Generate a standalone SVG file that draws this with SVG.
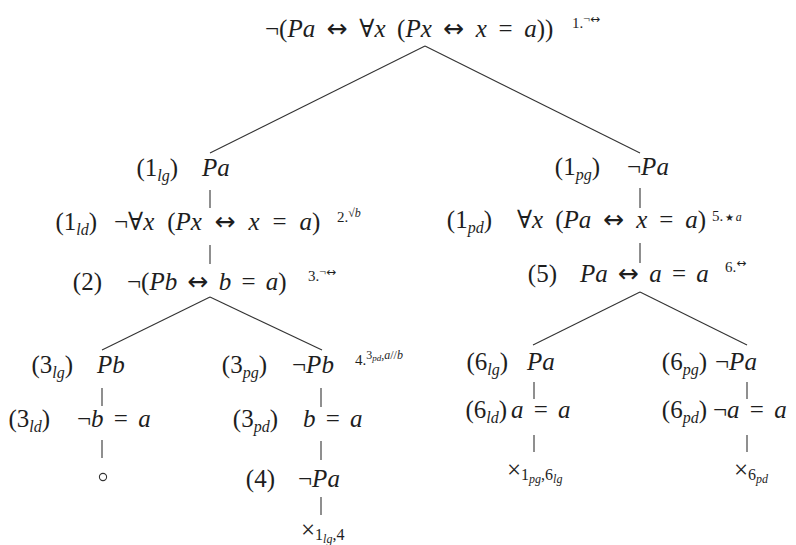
<svg xmlns="http://www.w3.org/2000/svg" width="796" height="545" viewBox="0 0 796 545">
<style>
text { font-family: "Liberation Serif", "DejaVu Serif", serif; fill: #1e1e1e; }
.f { font-size: 25px; word-spacing: 4px; }
.i { font-style: italic; }
.ar { font-family: "DejaVu Sans", sans-serif; font-style: normal; }
.sub { font-size: 16px; }
.ann { font-size: 15px; }
.sup { font-size: 12px; }
.tiny { font-size: 9px; }
.star { font-size: 20px; }
.edge { stroke: #333; stroke-width: 1.1; fill: none; }
</style>
<rect width="796" height="545" fill="#ffffff"/>
<g id="connectors">
  <line class="edge" x1="425" y1="46" x2="210" y2="153"/>
  <line class="edge" x1="425" y1="46" x2="640" y2="153"/>
  <line class="edge" x1="210" y1="190" x2="210" y2="208"/>
  <line class="edge" x1="210" y1="245" x2="210" y2="264"/>
  <line class="edge" x1="210" y1="297" x2="102" y2="350"/>
  <line class="edge" x1="210" y1="297" x2="322" y2="350"/>
  <line class="edge" x1="102" y1="388" x2="102" y2="406"/>
  <line class="edge" x1="102" y1="440" x2="102" y2="458"/>
  <line class="edge" x1="321" y1="388" x2="321" y2="407"/>
  <line class="edge" x1="321" y1="441" x2="321" y2="460"/>
  <line class="edge" x1="321" y1="497" x2="321" y2="515"/>
  <line class="edge" x1="640" y1="188" x2="640" y2="208"/>
  <line class="edge" x1="640" y1="243" x2="640" y2="263"/>
  <line class="edge" x1="640" y1="292" x2="533" y2="345"/>
  <line class="edge" x1="640" y1="292" x2="747" y2="345"/>
  <line class="edge" x1="534" y1="382" x2="534" y2="399"/>
  <line class="edge" x1="534" y1="435" x2="534" y2="452"/>
  <line class="edge" x1="747" y1="382" x2="747" y2="399"/>
  <line class="edge" x1="747" y1="435" x2="747" y2="452"/>
</g>
<g id="n1">
  <text class="f" x="265" y="37" style="word-spacing:5.3px">¬(<tspan class="i">Pa</tspan> <tspan class="ar">↔</tspan> ∀<tspan class="i">x</tspan> (<tspan class="i">Px</tspan> <tspan class="ar">↔</tspan> <tspan class="i">x</tspan> = <tspan class="i">a</tspan>))</text>
  <text class="ann" x="572" y="28">1.<tspan class="sup" dy="-5">¬<tspan class="ar">↔</tspan></tspan></text>
</g>
<g id="n1lg">
  <text class="f" x="178" y="176" text-anchor="end">(1<tspan class="sub i" dy="5">lg</tspan><tspan dy="-5">)</tspan></text>
  <text class="f i" x="202" y="176">Pa</text>
</g>
<g id="n1ld">
  <text class="f" x="97" y="230" text-anchor="end">(1<tspan class="sub i" dy="5">ld</tspan><tspan dy="-5">)</tspan></text>
  <text class="f" x="114" y="230" style="word-spacing:6.6px">¬∀<tspan class="i">x</tspan> (<tspan class="i">Px</tspan> <tspan class="ar">↔</tspan> <tspan class="i">x</tspan> = <tspan class="i">a</tspan>)</text>
  <text class="ann" x="337" y="222">2.<tspan class="sup" dy="-5">√<tspan class="i">b</tspan></tspan></text>
</g>
<g id="n2">
  <text class="f" x="102" y="290" text-anchor="end">(2)</text>
  <text class="f" x="127" y="290">¬(<tspan class="i">Pb</tspan> <tspan class="ar">↔</tspan> <tspan class="i">b</tspan> = <tspan class="i">a</tspan>)</text>
  <text class="ann" x="308" y="281">3.<tspan class="sup" dy="-5">¬<tspan class="ar">↔</tspan></tspan></text>
</g>
<g id="n3lg">
  <text class="f" x="73" y="373" text-anchor="end">(3<tspan class="sub i" dy="5">lg</tspan><tspan dy="-5">)</tspan></text>
  <text class="f i" x="97" y="373">Pb</text>
</g>
<g id="n3ld">
  <text class="f" x="50" y="427" text-anchor="end">(3<tspan class="sub i" dy="5">ld</tspan><tspan dy="-5">)</tspan></text>
  <text class="f" x="77" y="427">¬<tspan class="i">b</tspan> = <tspan class="i">a</tspan></text>
</g>
<g id="open">
  <circle cx="103" cy="477" r="3.6" fill="none" stroke="#333" stroke-width="1.1"/>
</g>
<g id="n3pg">
  <text class="f" x="267" y="373" text-anchor="end">(3<tspan class="sub i" dy="5">pg</tspan><tspan dy="-5">)</tspan></text>
  <text class="f" x="292" y="373">¬<tspan class="i">Pb</tspan></text>
  <text class="ann" x="355" y="365">4.<tspan class="sup" dy="-6">3</tspan><tspan class="tiny i" dy="2">pd</tspan><tspan class="sup" dy="-2">,<tspan class="i">a</tspan>//<tspan class="i">b</tspan></tspan></text>
</g>
<g id="n3pd">
  <text class="f" x="278" y="427" text-anchor="end">(3<tspan class="sub i" dy="5">pd</tspan><tspan dy="-5">)</tspan></text>
  <text class="f" x="303" y="427"><tspan class="i">b</tspan> = <tspan class="i">a</tspan></text>
</g>
<g id="n4">
  <text class="f" x="275" y="487" text-anchor="end">(4)</text>
  <text class="f" x="298" y="487">¬<tspan class="i">Pa</tspan></text>
</g>
<g id="close1">
  <text class="f" x="301" y="538">×<tspan class="sub" dy="2">1</tspan><tspan class="sup i" dy="3">lg</tspan><tspan class="sub" dy="-3">,4</tspan></text>
</g>
<g id="n1pg">
  <text class="f" x="600" y="175" text-anchor="end">(1<tspan class="sub i" dy="5">pg</tspan><tspan dy="-5">)</tspan></text>
  <text class="f" x="627" y="175">¬<tspan class="i">Pa</tspan></text>
</g>
<g id="n1pd">
  <text class="f" x="492" y="228" text-anchor="end">(1<tspan class="sub i" dy="5">pd</tspan><tspan dy="-5">)</tspan></text>
  <text class="f" x="517" y="228" style="word-spacing:5.7px">∀<tspan class="i">x</tspan> (<tspan class="i">Pa</tspan> <tspan class="ar">↔</tspan> <tspan class="i">x</tspan> = <tspan class="i">a</tspan>)</text>
  <text class="ann" x="712" y="221">5.<tspan class="sup" dy="-5"><tspan class="ar star" dy="3">⋆</tspan><tspan class="i" dy="-3">a</tspan></tspan></text>
</g>
<g id="n5">
  <text class="f" x="557" y="282" text-anchor="end">(5)</text>
  <text class="f" x="580" y="282"><tspan class="i">Pa</tspan> <tspan class="ar">↔</tspan> <tspan class="i">a</tspan> = <tspan class="i">a</tspan></text>
  <text class="ann" x="725" y="272">6.<tspan class="sup ar" dy="-5">↔</tspan></text>
</g>
<g id="n6lg">
  <text class="f" x="508" y="370" text-anchor="end">(6<tspan class="sub i" dy="5">lg</tspan><tspan dy="-5">)</tspan></text>
  <text class="f i" x="527" y="370">Pa</text>
</g>
<g id="n6ld">
  <text class="f" x="507" y="418" text-anchor="end">(6<tspan class="sub i" dy="5">ld</tspan><tspan dy="-5">)</tspan></text>
  <text class="f" x="511" y="418"><tspan class="i">a</tspan> = <tspan class="i">a</tspan></text>
</g>
<g id="close2">
  <text class="f" x="507" y="478">×<tspan class="sub" dy="2">1</tspan><tspan class="sup i" dy="3">pg</tspan><tspan class="sub" dy="-3">,6</tspan><tspan class="sup i" dy="3">lg</tspan></text>
</g>
<g id="n6pg">
  <text class="f" x="707" y="370" text-anchor="end">(6<tspan class="sub i" dy="5">pg</tspan><tspan dy="-5">)</tspan></text>
  <text class="f" x="715" y="370">¬<tspan class="i">Pa</tspan></text>
</g>
<g id="n6pd">
  <text class="f" x="707" y="418" text-anchor="end">(6<tspan class="sub i" dy="5">pd</tspan><tspan dy="-5">)</tspan></text>
  <text class="f" x="713" y="418">¬<tspan class="i">a</tspan> = <tspan class="i">a</tspan></text>
</g>
<g id="close3">
  <text class="f" x="734" y="478">×<tspan class="sub" dy="2">6</tspan><tspan class="sup i" dy="3">pd</tspan></text>
</g>
</svg>
